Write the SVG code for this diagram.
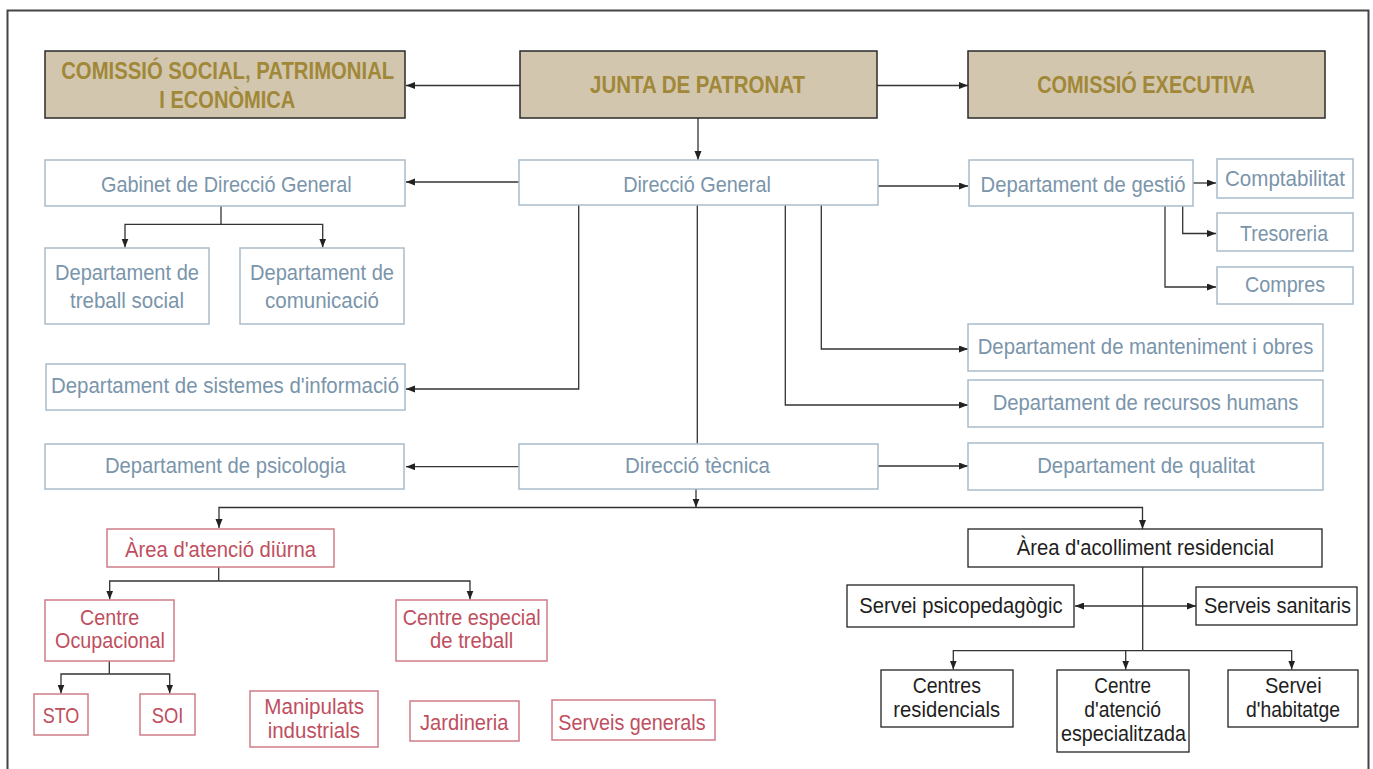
<svg xmlns="http://www.w3.org/2000/svg" width="1373" height="769" viewBox="0 0 1373 769">
<defs>
<marker id="ah" markerUnits="userSpaceOnUse" markerWidth="10" markerHeight="8" refX="9" refY="3.5" orient="auto">
<path d="M0,0 L9,3.5 L0,7 z" fill="#222"/>
</marker>
<marker id="ahs" markerUnits="userSpaceOnUse" markerWidth="10" markerHeight="8" refX="0" refY="3.5" orient="auto">
<path d="M9,0 L0,3.5 L9,7 z" fill="#222"/>
</marker>
<style>
text{font-family:"Liberation Sans Narrow","Liberation Sans",Arial,sans-serif;font-stretch:condensed;text-anchor:middle;font-size:21.5px}
.tan rect{fill:#d3c6ae;stroke:#2a2a2a;stroke-width:1.5}
.tan text{fill:#a08838;font-weight:bold;font-size:23px}
.blu rect{fill:#fff;stroke:#a9bccb;stroke-width:1.5}
.blu text{fill:#7a95ab}
.red rect{fill:#fff;stroke:#cf7d88;stroke-width:1.5}
.red text{fill:#bf4f60}
.blk rect{fill:#fff;stroke:#222;stroke-width:1.3}
.blk text{fill:#1e1e1e}
#connectors path{fill:none;stroke:#333;stroke-width:1.3}
</style>
</defs>
<rect width="1373" height="769" fill="#fff"/>
<path d="M7.5,780 V10.5 H1368.5 V780" fill="none" stroke="#444" stroke-width="2"/>

<g id="connectors">
<path d="M520,85.5 H406" marker-end="url(#ah)"/>
<path d="M877,85.5 H968" marker-end="url(#ah)"/>
<path d="M698,118 V160" marker-end="url(#ah)"/>
<path d="M519,182 H406" marker-end="url(#ah)"/>
<path d="M878,186 H968" marker-end="url(#ah)"/>
<path d="M1193,183 H1216" marker-end="url(#ah)"/>
<path d="M1182.7,206 V233.5 H1216" marker-end="url(#ah)"/>
<path d="M1165,206 V287 H1216" marker-end="url(#ah)"/>
<path d="M221,206 V224.3"/>
<path d="M221,224.3 H125 V247.5" marker-end="url(#ah)"/>
<path d="M221,224.3 H322.7 V247.5" marker-end="url(#ah)"/>
<path d="M578.7,205 V389 H406" marker-end="url(#ah)"/>
<path d="M697.3,205 V443.5"/>
<path d="M821.3,205 V349 H968" marker-end="url(#ah)"/>
<path d="M785.3,205 V405 H968" marker-end="url(#ah)"/>
<path d="M518.7,466.7 H406" marker-end="url(#ah)"/>
<path d="M878,466 H968" marker-end="url(#ah)"/>
<path d="M696,489 V507.5" marker-end="url(#ah)"/>
<path d="M696,507.5 H219 V528" marker-end="url(#ah)"/>
<path d="M696,507.5 H1142.5 V529" marker-end="url(#ah)"/>
<path d="M218.7,567 V581"/>
<path d="M218.7,581 H109.7 V599.5" marker-end="url(#ah)"/>
<path d="M218.7,581 H470 V599.5" marker-end="url(#ah)"/>
<path d="M109.3,661 V674"/>
<path d="M109.3,674 H61 V693.5" marker-end="url(#ah)"/>
<path d="M109.3,674 H169.7 V693.5" marker-end="url(#ah)"/>
<path d="M1142.7,567 V650.7"/>
<path d="M1075,606 H1196" marker-start="url(#ahs)" marker-end="url(#ah)"/>
<path d="M1142.7,650.7 H953.3 V669.5" marker-end="url(#ah)"/>
<path d="M1142.7,650.7 H1291.7 V669.5" marker-end="url(#ah)"/>
<path d="M1125.7,650.7 V669.5" marker-end="url(#ah)"/>
</g>

<g id="n-comissio-social" class="tan"><rect x="45" y="51" width="360" height="67"/><text x="227.7" y="79" textLength="333" lengthAdjust="spacingAndGlyphs">COMISSIÓ SOCIAL, PATRIMONIAL</text><text x="227.3" y="107.7" textLength="136" lengthAdjust="spacingAndGlyphs">I ECONÒMICA</text></g>
<g id="n-junta" class="tan"><rect x="520" y="51" width="357" height="67"/><text x="697.5" y="92.7" textLength="215" lengthAdjust="spacingAndGlyphs">JUNTA DE PATRONAT</text></g>
<g id="n-comissio-executiva" class="tan"><rect x="968" y="51" width="357" height="67"/><text x="1146" y="92.7" textLength="217.7" lengthAdjust="spacingAndGlyphs">COMISSIÓ EXECUTIVA</text></g>

<g id="n-gabinet" class="blu"><rect x="45" y="160" width="360" height="46"/><text x="226.3" y="191.7" textLength="250.7" lengthAdjust="spacingAndGlyphs">Gabinet de Direcció General</text></g>
<g id="n-direccio-general" class="blu"><rect x="519" y="160" width="359" height="45"/><text x="697" y="191.7" textLength="147.7" lengthAdjust="spacingAndGlyphs">Direcció General</text></g>
<g id="n-gestio" class="blu"><rect x="969" y="160" width="224" height="46"/><text x="1083" y="192" textLength="205" lengthAdjust="spacingAndGlyphs">Departament de gestió</text></g>
<g id="n-comptabilitat" class="blu"><rect x="1217" y="159" width="136" height="39"/><text x="1285" y="186" textLength="120" lengthAdjust="spacingAndGlyphs">Comptabilitat</text></g>
<g id="n-tresoreria" class="blu"><rect x="1217" y="213" width="136" height="38"/><text x="1284" y="240.7" textLength="88" lengthAdjust="spacingAndGlyphs">Tresoreria</text></g>
<g id="n-compres" class="blu"><rect x="1217" y="267" width="136" height="37"/><text x="1285" y="292.3" textLength="80" lengthAdjust="spacingAndGlyphs">Compres</text></g>
<g id="n-treball-social" class="blu"><rect x="45" y="248" width="164" height="76"/><text x="127" y="280" textLength="144" lengthAdjust="spacingAndGlyphs">Departament de</text><text x="127" y="308.3" textLength="114" lengthAdjust="spacingAndGlyphs">treball social</text></g>
<g id="n-comunicacio" class="blu"><rect x="240" y="248" width="164" height="76"/><text x="322" y="280" textLength="144" lengthAdjust="spacingAndGlyphs">Departament de</text><text x="322" y="308.3" textLength="114" lengthAdjust="spacingAndGlyphs">comunicació</text></g>
<g id="n-sistemes" class="blu"><rect x="46" y="364" width="359" height="46"/><text x="225" y="393.3" textLength="348" lengthAdjust="spacingAndGlyphs">Departament de sistemes d'informació</text></g>
<g id="n-psicologia" class="blu"><rect x="45" y="444" width="359" height="45"/><text x="225.3" y="472.7" textLength="240.7" lengthAdjust="spacingAndGlyphs">Departament de psicologia</text></g>
<g id="n-direccio-tecnica" class="blu"><rect x="519" y="444" width="359" height="45"/><text x="697.5" y="472.7" textLength="145" lengthAdjust="spacingAndGlyphs">Direcció tècnica</text></g>
<g id="n-manteniment" class="blu"><rect x="968" y="324" width="355" height="47"/><text x="1145.5" y="354.3" textLength="335.7" lengthAdjust="spacingAndGlyphs">Departament de manteniment i obres</text></g>
<g id="n-rrhh" class="blu"><rect x="968" y="380" width="355" height="47"/><text x="1145.5" y="410" textLength="305.7" lengthAdjust="spacingAndGlyphs">Departament de recursos humans</text></g>
<g id="n-qualitat" class="blu"><rect x="968" y="443" width="355" height="47"/><text x="1146" y="472.7" textLength="217.7" lengthAdjust="spacingAndGlyphs">Departament de qualitat</text></g>

<g id="n-area-diurna" class="red"><rect x="107" y="529" width="227" height="38"/><text x="220.5" y="556.7" textLength="191" lengthAdjust="spacingAndGlyphs">Àrea d'atenció diürna</text></g>
<g id="n-centre-ocupacional" class="red"><rect x="45" y="600" width="129" height="61"/><text x="109.7" y="625" textLength="59.3" lengthAdjust="spacingAndGlyphs">Centre</text><text x="110" y="648.3" textLength="110" lengthAdjust="spacingAndGlyphs">Ocupacional</text></g>
<g id="n-centre-especial" class="red"><rect x="396" y="600" width="151" height="61"/><text x="471.7" y="625" textLength="138" lengthAdjust="spacingAndGlyphs">Centre especial</text><text x="471.7" y="648.3" textLength="83.3" lengthAdjust="spacingAndGlyphs">de treball</text></g>
<g id="n-sto" class="red"><rect x="34" y="694" width="54" height="41"/><text x="61" y="722.7" textLength="36.7" lengthAdjust="spacingAndGlyphs">STO</text></g>
<g id="n-soi" class="red"><rect x="140" y="694" width="55" height="41"/><text x="167.5" y="722.7" textLength="31.7" lengthAdjust="spacingAndGlyphs">SOI</text></g>
<g id="n-manipulats" class="red"><rect x="250" y="691" width="128" height="56"/><text x="314.2" y="714" textLength="99.7" lengthAdjust="spacingAndGlyphs">Manipulats</text><text x="313.8" y="737.7" textLength="92.3" lengthAdjust="spacingAndGlyphs">industrials</text></g>
<g id="n-jardineria" class="red"><rect x="410" y="701" width="109" height="40"/><text x="464.2" y="730" textLength="88.3" lengthAdjust="spacingAndGlyphs">Jardineria</text></g>
<g id="n-serveis-generals" class="red"><rect x="552" y="700" width="163" height="40"/><text x="632" y="730" textLength="147.3" lengthAdjust="spacingAndGlyphs">Serveis generals</text></g>

<g id="n-area-residencial" class="blk"><rect x="968" y="529" width="354" height="38"/><text x="1145.3" y="555" textLength="257.3" lengthAdjust="spacingAndGlyphs">Àrea d'acolliment residencial</text></g>
<g id="n-psicopedagogic" class="blk"><rect x="847" y="585" width="227" height="42"/><text x="961" y="613.3" textLength="203.3" lengthAdjust="spacingAndGlyphs">Servei psicopedagògic</text></g>
<g id="n-sanitaris" class="blk"><rect x="1196" y="587" width="161" height="38"/><text x="1277.5" y="613.3" textLength="147" lengthAdjust="spacingAndGlyphs">Serveis sanitaris</text></g>
<g id="n-centres-residencials" class="blk"><rect x="881" y="670" width="132" height="57"/><text x="946.8" y="693.3" textLength="68.3" lengthAdjust="spacingAndGlyphs">Centres</text><text x="946.7" y="716.7" textLength="106.7" lengthAdjust="spacingAndGlyphs">residencials</text></g>
<g id="n-centre-atencio" class="blk"><rect x="1057" y="670" width="132" height="82"/><text x="1122.7" y="693.3" textLength="56.7" lengthAdjust="spacingAndGlyphs">Centre</text><text x="1122.7" y="716.7" textLength="76.7" lengthAdjust="spacingAndGlyphs">d'atenció</text><text x="1123.5" y="740.7" textLength="125" lengthAdjust="spacingAndGlyphs">especialitzada</text></g>
<g id="n-habitatge" class="blk"><rect x="1228" y="670" width="130" height="57"/><text x="1293.3" y="693.3" textLength="56.7" lengthAdjust="spacingAndGlyphs">Servei</text><text x="1293" y="716.7" textLength="94" lengthAdjust="spacingAndGlyphs">d'habitatge</text></g>
</svg>
